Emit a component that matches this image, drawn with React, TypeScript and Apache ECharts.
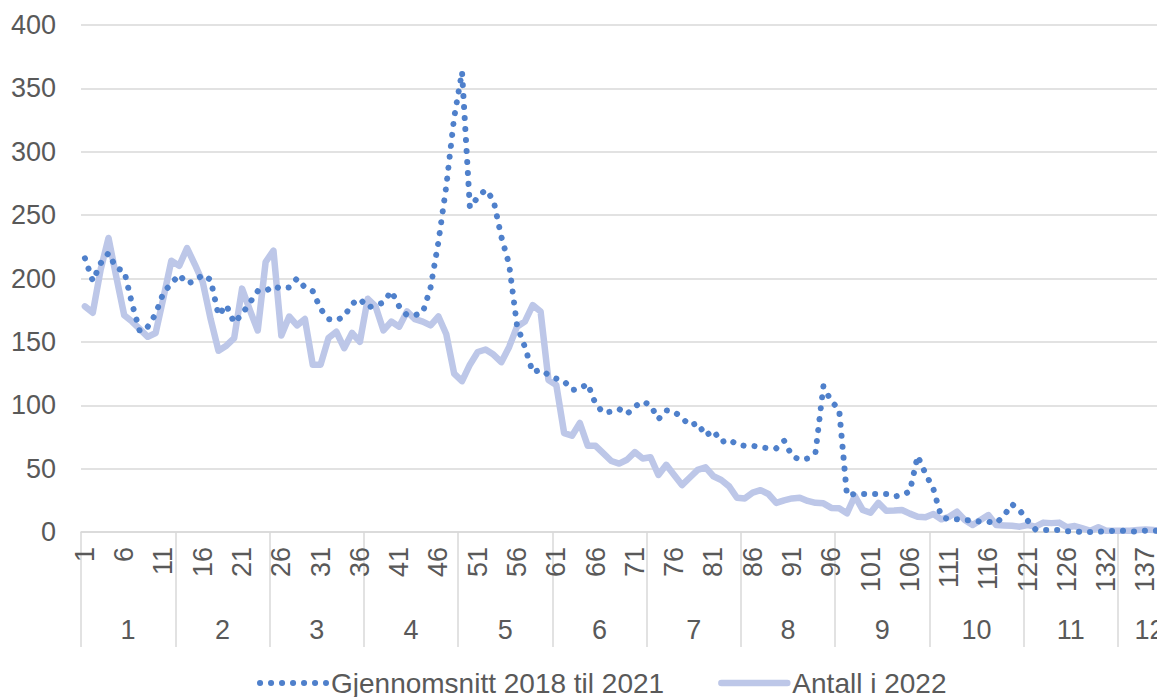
import React, { useEffect, useRef } from "react";
import * as echarts from "echarts";

const weeks = [
  "1","2","3","4","5","6","7","8","9","10","11","12","13","14","15","16","17","18","19","20",
  "21","22","23","24","25","26","27","28","29","30","31","32","33","34","35","36","37","38","39","40",
  "41","42","43","44","45","46","47","48","49","50","51","52","53","54","55","56","57","58","59","60",
  "61","62","63","64","65","66","67","68","69","70","71","72","73","74","75","76","77","78","79","80",
  "81","82","83","84","85","86","87","88","89","90","91","92","93","94","95","96","97","98","99","100",
  "101","102","103","104","105","106","107","108","109","110","111","112","113","114","115","116","117","118","119","120",
  "121","122","123","124","125","126","127","128","130","131","132","133","134","135","136","137","138","139","140","141"
];

const months = ["1","2","3","4","5","6","7","8","9","10","11","12"];
const monthLengths = [12, 12, 12, 12, 12, 12, 12, 12, 12, 12, 12, 8];

const avg2018to2021 = [
  216,198,212,220,208,206,180,158,162,172,
  189,196,203,196,198,203,199,171,179,165,
  172,181,190,190,194,192,193,200,193,190,
  176,168,167,170,180,184,177,179,181,190,
  178,171,171,173,193,229,273,327,363,256,
  264,270,262,233,211,163,146,126,128,124,
  121,119,112,113,117,101,94,95,97,93,
  99,103,100,89,96,95,90,84,86,76,
  80,71,73,69,68,68,67,66,66,72,
  60,57,58,63,115,103,97,29,30,30,
  30,30,30,28,29,32,60,46,34,12,
  10,10,9,9.5,8,8,7,13,22,17,
  9,2,1.5,1.5,1.5,0.5,0.5,0,0,0.3,
  0.5,1,1,0.5,0.3,1,1,1,1,1
];

const count2022 = [
  178,173,207,232,201,171,166,160,154,157,
  185,214,210,224,211,197,168,143,147,153,
  192,175,159,213,222,155,170,163,168,132,
  132,153,158,145,157,150,184,178,159,166,
  162,174,168,166,163,170,156,125,119,132,
  142,144,140,134,146,162,166,179,174,120,
  116,78,76,86,68,68,62,56,54,57,
  63,58,59,45,53,45,37,43,49,51,
  44,41,36,27,26.5,31,33,30,23,25,
  26.5,27,24.5,23,22.6,19,18.7,14.7,28.4,17.4,
  15.2,23,16.8,17,17.4,14.5,12,11.6,14.2,10,
  12,16,9.5,5.5,9.5,13.4,5.5,5.2,5,4.2,
  5.5,4.2,7.4,7,7.4,3.7,4.7,2.9,1,3.7,
  1,1,1,1,1.5,2,1.5,1,1,1
];

const FONT = "'Liberation Sans', Arial, sans-serif";
const TXT = "#595959";
const GRID = "#d9d9d9";
const DOT = "#4F80CB";
const SOLID = "#BDC7E8";
const CAT_W = 7.856;

// month axis at half-category resolution (boundaryGap false), built from months / monthLengths
const halfSteps = weeks.length * 2;
const monthAxisData: string[] = new Array(halfSteps + 1).fill("");
const monthBoundaries = new Set<number>();
const monthCenters = new Set<number>();
{
  let start = 0;
  monthBoundaries.add(0);
  months.forEach((m, idx) => {
    const len = monthLengths[idx] * 2;
    const center = start + len / 2;
    monthAxisData[center] = m;
    monthCenters.add(center);
    start += len;
    monthBoundaries.add(start);
  });
}

export default function App() {
  const ref = useRef<HTMLDivElement>(null);
  useEffect(() => {
    if (!ref.current) return;
    const chart = echarts.init(ref.current, null, { renderer: "svg" });
    chart.setOption({
      animation: false,
      backgroundColor: "#ffffff",
      textStyle: { fontFamily: FONT },
      grid: { left: 81, top: 25, width: weeks.length * CAT_W, height: 507, containLabel: false },
      legend: {
        left: 252,
        top: 664,
        itemWidth: 66,
        itemHeight: 14,
        itemGap: 54,
        itemStyle: { opacity: 0 },
        lineStyle: { width: "inherit", type: "inherit", cap: "inherit" },
        textStyle: { fontSize: 28, color: TXT, fontFamily: FONT },
        data: ["Gjennomsnitt 2018 til 2021", "Antall i 2022"],
      },
      xAxis: [
        {
          type: "category",
          data: weeks,
          boundaryGap: true,
          axisLine: { show: true, lineStyle: { color: GRID, width: 1.5 } },
          axisTick: { show: false },
          axisLabel: {
            interval: 4,
            rotate: 90,
            fontSize: 27,
            color: TXT,
            fontFamily: FONT,
            margin: 15,
          },
        },
        {
          type: "category",
          data: monthAxisData,
          position: "bottom",
          boundaryGap: false,
          axisLine: { show: false },
          axisTick: {
            show: true,
            length: 115,
            interval: (i: number) => monthBoundaries.has(i),
            lineStyle: { color: GRID, width: 1.5 },
          },
          axisLabel: {
            interval: (i: number) => monthCenters.has(i),
            fontSize: 27,
            color: TXT,
            fontFamily: FONT,
            margin: 84,
            lineHeight: 27,
          },
        },
      ],
      yAxis: {
        type: "value",
        min: 0,
        max: 400,
        interval: 50,
        axisLine: { show: false },
        axisTick: { show: false },
        axisLabel: { fontSize: 27, color: TXT, fontFamily: FONT, margin: 25 },
        splitLine: { lineStyle: { color: GRID, width: 1.5 } },
      },
      series: [
        {
          name: "Gjennomsnitt 2018 til 2021",
          type: "line",
          data: avg2018to2021,
          symbol: "none",
          z: 3,
          itemStyle: { color: DOT },
          lineStyle: { color: DOT, width: 6, type: [0.1, 10.9], cap: "round", join: "round" },
        },
        {
          name: "Antall i 2022",
          type: "line",
          data: count2022,
          symbol: "none",
          z: 2,
          itemStyle: { color: SOLID },
          lineStyle: { color: SOLID, width: 6.5, join: "round", cap: "round" },
        },
      ],
    });
    return () => chart.dispose();
  }, []);
  return (
    <div style={{ position: "fixed", left: 0, top: 0, width: 1157, height: 697, overflow: "hidden", background: "#fff" }}>
      <div ref={ref} style={{ width: 1215, height: 697 }} />
    </div>
  );
}
